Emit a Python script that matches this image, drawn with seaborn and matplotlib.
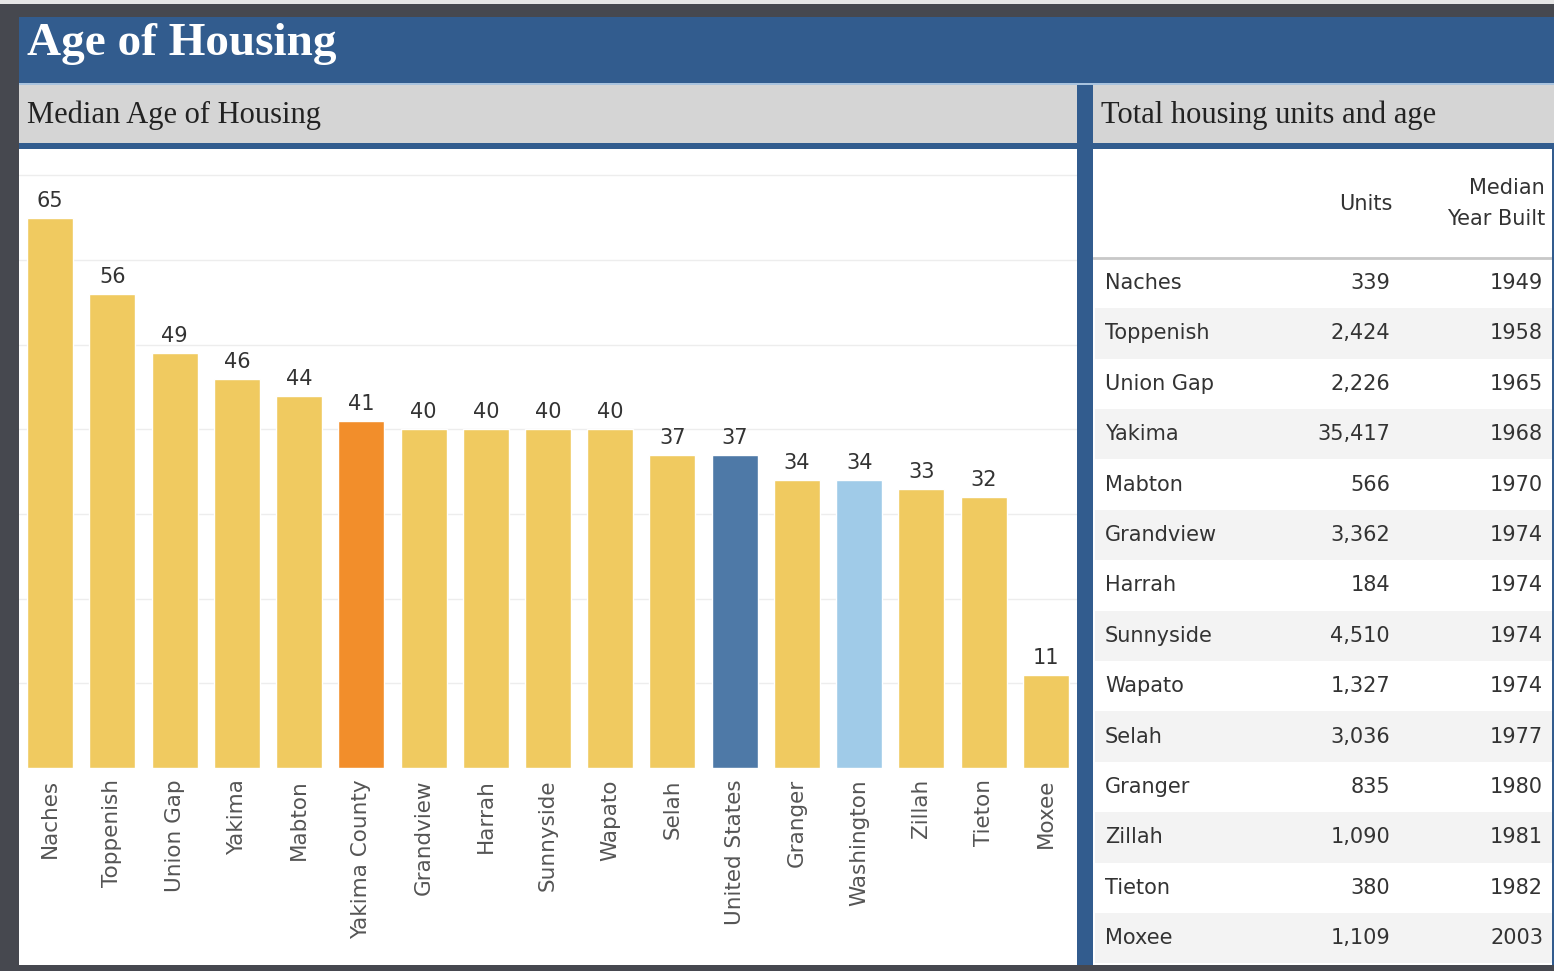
import matplotlib
matplotlib.use("Agg")
import matplotlib.pyplot as plt
from matplotlib.patches import Rectangle
import pandas as pd
import seaborn as sns

# --- data -------------------------------------------------------------
places = ["Naches", "Toppenish", "Union Gap", "Yakima", "Mabton", "Yakima County",
          "Grandview", "Harrah", "Sunnyside", "Wapato", "Selah", "United States",
          "Granger", "Washington", "Zillah", "Tieton", "Moxee"]
median_age = [65, 56, 49, 46, 44, 41, 40, 40, 40, 40, 37, 37, 34, 34, 33, 32, 11]

table_places = ["Naches", "Toppenish", "Union Gap", "Yakima", "Mabton", "Grandview",
                "Harrah", "Sunnyside", "Wapato", "Selah", "Granger", "Zillah",
                "Tieton", "Moxee"]
units = [339, 2424, 2226, 35417, 566, 3362, 184, 4510, 1327, 3036, 835, 1090, 380, 1109]
year_built = [1949, 1958, 1965, 1968, 1970, 1974, 1974, 1974, 1974, 1977, 1980, 1981,
              1982, 2003]

# --- style ------------------------------------------------------------
CITY = "#f0ca60"
COUNTY = "#f28e2b"
NATION = "#4e79a7"
STATE = "#a0cbe8"
highlight = {"Yakima County": COUNTY, "United States": NATION, "Washington": STATE}
palette = {p: highlight.get(p, CITY) for p in places}

FRAME = "#46484f"
HEADER_BLUE = "#325c8e"
SUB_GRAY = "#d5d5d5"
TEXT = "#333333"

sns.set_theme(style="white")
plt.rcParams["font.family"] = ["DejaVu Sans"]

W, H = 1554, 971
fig = plt.figure(figsize=(W / 100, H / 100), dpi=100, facecolor=FRAME)


def fx(x):
    return x / W


def fy(y):
    return 1 - y / H


def box(x0, y0, x1, y1, color):
    fig.patches.append(Rectangle((fx(x0), fy(y1)), (x1 - x0) / W, (y1 - y0) / H,
                                 transform=fig.transFigure, facecolor=color,
                                 edgecolor="none", zorder=-5))


# dashboard frame and panels
box(0, 0, W, 4, "#e6e6e6")
box(19, 17, W, 965, HEADER_BLUE)
box(19, 83, W, 85, "#a9c3de")
box(19, 85, 1077, 143, SUB_GRAY)
box(1093, 85, W, 143, SUB_GRAY)
box(19, 149, 1077, 965, "white")
box(1093, 149, 1552, 965, "white")

fig.text(fx(27), fy(44), "Age of Housing", color="white", fontsize=34,
         fontweight="bold", family="Liberation Serif", va="center", ha="left")
fig.text(fx(27), fy(115), "Median Age of Housing", color="#222222", fontsize=22,
         family="Liberation Serif", va="center", ha="left")
fig.text(fx(1101), fy(115), "Total housing units and age", color="#222222",
         fontsize=22, family="Liberation Serif", va="center", ha="left")

# --- bar chart --------------------------------------------------------
df = pd.DataFrame({"place": places, "age": median_age})
ax = fig.add_axes([fx(19), fy(768), (1077 - 19) / W, (768 - 150) / H])
ax.set_facecolor("none")
sns.barplot(data=df, x="place", y="age", hue="place", palette=palette,
            saturation=1, width=0.74, legend=False, ax=ax, zorder=2)
for cont in ax.containers:
    ax.bar_label(cont, fmt="%d", padding=5, fontsize=15, color=TEXT)

ax.set_xlim(-0.5, 16.5)
ax.set_ylim(0, 73)
ax.set_yticks(range(10, 80, 10))
ax.yaxis.grid(True, color="#ededed", linewidth=1)
ax.set_axisbelow(True)
ax.tick_params(axis="y", labelleft=False, length=0)
ax.tick_params(axis="x", length=0, pad=8, labelsize=15.5, labelcolor="#555555")
for lbl in ax.get_xticklabels():
    lbl.set_rotation(90)
    lbl.set_va("top")
ax.set_xlabel("")
ax.set_ylabel("")
sns.despine(ax=ax, left=True, bottom=True)

# --- table ------------------------------------------------------------
tx = fig.add_axes([fx(1093), fy(965), (1552 - 1093) / W, (965 - 149) / H])
tx.set_facecolor("none")
tx.set_xlim(1093, 1552)
tx.set_ylim(965, 149)
tx.axis("off")

tx.text(1392, 204, "Units", ha="right", va="center", fontsize=15, color=TEXT)
tx.text(1545, 188, "Median", ha="right", va="center", fontsize=15, color=TEXT)
tx.text(1545, 219, "Year Built", ha="right", va="center", fontsize=15, color=TEXT)
tx.plot([1093, 1552], [258, 258], color="#c8c8c8", lw=2)

row0, step = 283, 50.4
for i, (name, u, yr) in enumerate(zip(table_places, units, year_built)):
    yc = row0 + step * i
    if i % 2 == 1:
        tx.add_patch(Rectangle((1095, yc - step / 2), 1552 - 1095, step,
                               facecolor="#f3f3f3", edgecolor="none", zorder=0))
    tx.text(1105, yc, name, ha="left", va="center", fontsize=15, color=TEXT)
    tx.text(1390, yc, f"{u:,}", ha="right", va="center", fontsize=15, color=TEXT)
    tx.text(1543, yc, f"{yr}", ha="right", va="center", fontsize=15, color=TEXT)

fig.savefig("out.png", dpi=100, facecolor=FRAME)
